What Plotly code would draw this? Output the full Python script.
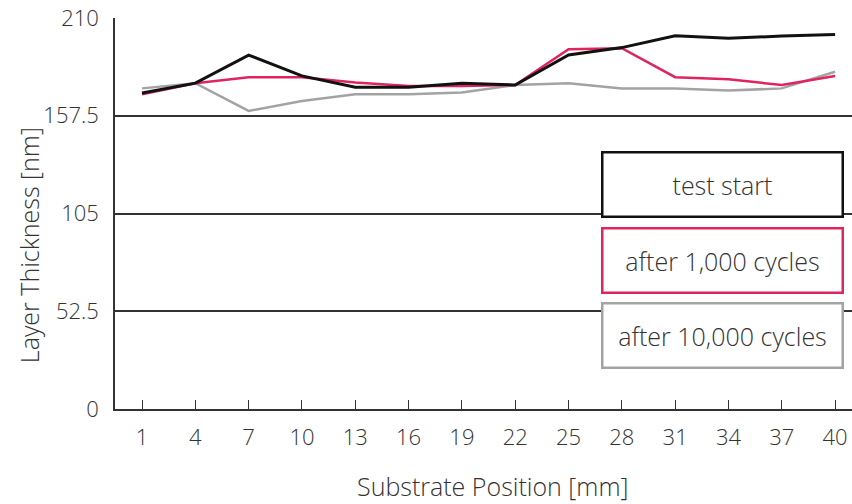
import plotly.graph_objects as go

positions = [1, 4, 7, 10, 13, 16, 19, 22, 25, 28, 31, 34, 37, 40]
test_start = [169.7, 175.0, 190.1, 178.9, 172.8, 172.8, 174.9, 174.0, 190.1, 194.1, 200.5, 199.1, 200.3, 201.2]
after_1000 = [169.0, 175.0, 178.2, 178.2, 175.3, 173.5, 173.5, 174.0, 193.2, 193.8, 178.2, 177.1, 174.0, 178.9]
after_10000 = [172.2, 175.0, 160.1, 165.4, 169.0, 169.0, 170.0, 174.0, 175.0, 172.2, 172.2, 171.0, 172.2, 181.1]
series_names = ["test start", "after 1,000 cycles", "after 10,000 cycles"]
series_colors = ["#111111", "#e0245e", "#a3a3a3"]
series_widths = [3.0, 2.5, 2.5]
y_ticks = [0, 52.5, 105, 157.5, 210]
y_ticktext = ["0", "52.5", "105", "157.5", "210"]
x_title = "Substrate Position [mm]"
y_title = "Layer Thickness [nm]"

FONT = "Open Sans, Noto Sans, sans-serif"
TXT = "#333333"

fig = go.Figure()
series_values = [test_start, after_1000, after_10000]
for name, vals, col, w in list(zip(series_names, series_values, series_colors, series_widths))[::-1]:
    fig.add_trace(go.Scatter(x=positions, y=vals, mode="lines", name=name,
                             line=dict(color=col, width=w), showlegend=False))

fig.update_layout(
    width=852, height=504,
    margin=dict(l=115, r=0, t=18, b=95),
    paper_bgcolor="white", plot_bgcolor="white",
    font=dict(family=FONT, color=TXT, size=22, weight=300),
    xaxis=dict(
        range=[1 - 1.52, 40 + 0.95], tickvals=positions, ticktext=[str(p) for p in positions],
        showgrid=False, zeroline=False, showline=True, linecolor="#333333", linewidth=1.5,
        ticks="inside", ticklen=9, tickcolor="#333333", tickwidth=1.2,
        ticklabelstandoff=8, automargin=False,
        tickfont=dict(family=FONT, size=22, weight=300, color=TXT),
    ),
    yaxis=dict(
        range=[0, 210], tickvals=y_ticks, ticktext=y_ticktext,
        showgrid=True, gridcolor="#333333", gridwidth=1.5, zeroline=False,
        showline=True, linecolor="#333333", linewidth=1.5,
        ticks="inside", ticklen=18, tickcolor="#333333", tickwidth=1.5,
        ticklabelstandoff=10, automargin=False,
        tickfont=dict(family=FONT, size=22, weight=300, color=TXT),
    ),
)

# axis titles (placed as in the reference, slightly off-centre)
fig.add_annotation(xref="paper", yref="paper", x=0.5122, y=-0.197, xanchor="center", yanchor="middle",
                   text=x_title, showarrow=False, font=dict(family=FONT, size=25, weight=300, color=TXT))
fig.add_annotation(xref="paper", yref="paper", x=-0.1167, y=0.419, xanchor="center", yanchor="middle",
                   text=y_title, textangle=-90, showarrow=False,
                   font=dict(family=FONT, size=25, weight=300, color=TXT))

box_y = [0.5754, 0.381, 0.189]
for name, col, yy in zip(series_names, series_colors, box_y):
    fig.add_annotation(
        xref="paper", yref="paper", x=0.8243, y=yy, xanchor="center", yanchor="middle",
        text=name, showarrow=False, width=238, height=62,
        bgcolor="white", bordercolor=col, borderwidth=2.5, borderpad=0,
        font=dict(family=FONT, size=25, weight=300, color=TXT),
    )

fig.write_html("out.html", config={"displayModeBar": False},
               post_script="document.body.style.margin='0';")
